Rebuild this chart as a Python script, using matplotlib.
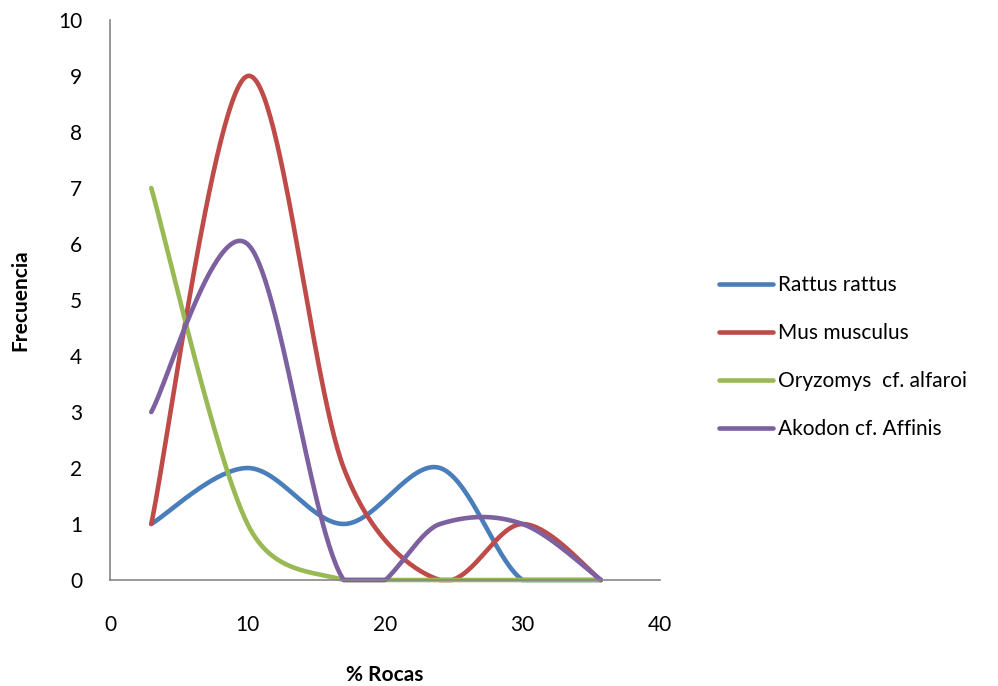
import numpy as np
import matplotlib
matplotlib.use("Agg")
import matplotlib.pyplot as plt
from matplotlib.lines import Line2D

# % rocks classes and frequency per species
rocas = [3, 10, 17, 24, 30, 35.7]
rattus = [1, 2, 1, 2, 0, 0]
mus = [1, 9, 2, 0, 1, 0]
oryzomys = [7, 1, 0, 0, 0, 0]
akodon = [3, 6, 0, 1, 1, 0]

names = ["Rattus rattus", "Mus musculus", "Oryzomys  cf. alfaroi", "Akodon cf. Affinis"]
colors = ["#4A7EBB", "#BE4B48", "#98B954", "#7D60A0"]

plt.rcParams['font.family'] = ['Lato', 'DejaVu Sans']

W, H = 998, 686
fig = plt.figure(figsize=(W / 100, H / 100), dpi=100)
ax = fig.add_axes([110 / W, 106 / H, 550 / W, 560 / H])
ax.set_xlim(0, 40)
ax.set_ylim(0, 10)

# pixels per data unit, used so the smoothing works in screen space
sx, sy = 550 / 40, 560 / 10


def smooth_curve(xs, ys, steps=60):
    """Bezier spline in the style of a spreadsheet 'smoothed line', sampled."""
    p = np.column_stack([np.array(xs) * sx, np.array(ys) * sy]).astype(float)
    n = len(p)
    t = np.linspace(0, 1, steps)[:, None]
    out = [p[:1]]
    for i in range(n - 1):
        p0 = p[i - 1] if i > 0 else p[i]
        p1, p2 = p[i], p[i + 1]
        p3 = p[i + 2] if i + 2 < n else p[i + 1]
        d12 = np.hypot(*(p2 - p1))
        d02 = np.hypot(*(p2 - p0))
        d13 = np.hypot(*(p3 - p1))
        f = 1 / 6
        g = 1 / 6
        if d02 / 6 >= d12 / 2 and d02 > 0:
            f = d12 / d02 / 2
        if d13 / 6 >= d12 / 2 and d13 > 0:
            g = d12 / d13 / 2
        c1 = p1 + (p2 - p0) * f
        c2 = p2 - (p3 - p1) * g
        seg = ((1 - t) ** 3 * p1 + 3 * (1 - t) ** 2 * t * c1
               + 3 * (1 - t) * t ** 2 * c2 + t ** 3 * p2)
        out.append(seg[1:])
    pts = np.vstack(out) / [sx, sy]
    return pts[:, 0], pts[:, 1]


for ys, c in zip([rattus, mus, oryzomys, akodon], colors):
    cx, cy = smooth_curve(rocas, ys)
    # the plot area cuts the curve off at the floor
    cy = np.clip(cy, 0, 10)
    ax.plot(cx, cy, color=c, lw=3.3, solid_capstyle="round",
            solid_joinstyle="round", clip_on=False)

for s in ["top", "right"]:
    ax.spines[s].set_visible(False)
for s in ["left", "bottom"]:
    ax.spines[s].set_color("#868686")
    ax.spines[s].set_linewidth(1.2)

ax.set_xticks(range(0, 41, 10))
ax.set_yticks(range(0, 11))
ax.tick_params(length=0, labelsize=15, colors="black")
ax.tick_params(axis="x", pad=25)
ax.tick_params(axis="y", pad=20)

ax.set_xlabel("% Rocas", fontsize=15, fontweight="bold", labelpad=22)
ax.set_ylabel("Frecuencia", fontsize=15, fontweight="bold", labelpad=20)

handles = [Line2D([], [], color=c, lw=3.3, solid_capstyle="round") for c in colors]
fig.legend(handles, names, loc="center left", bbox_to_anchor=(700 / W, 1 - 357 / H),
           frameon=False, fontsize=15, handlelength=2.6, handletextpad=0.25,
           labelspacing=1.35)

fig.savefig("out.png", dpi=100)
